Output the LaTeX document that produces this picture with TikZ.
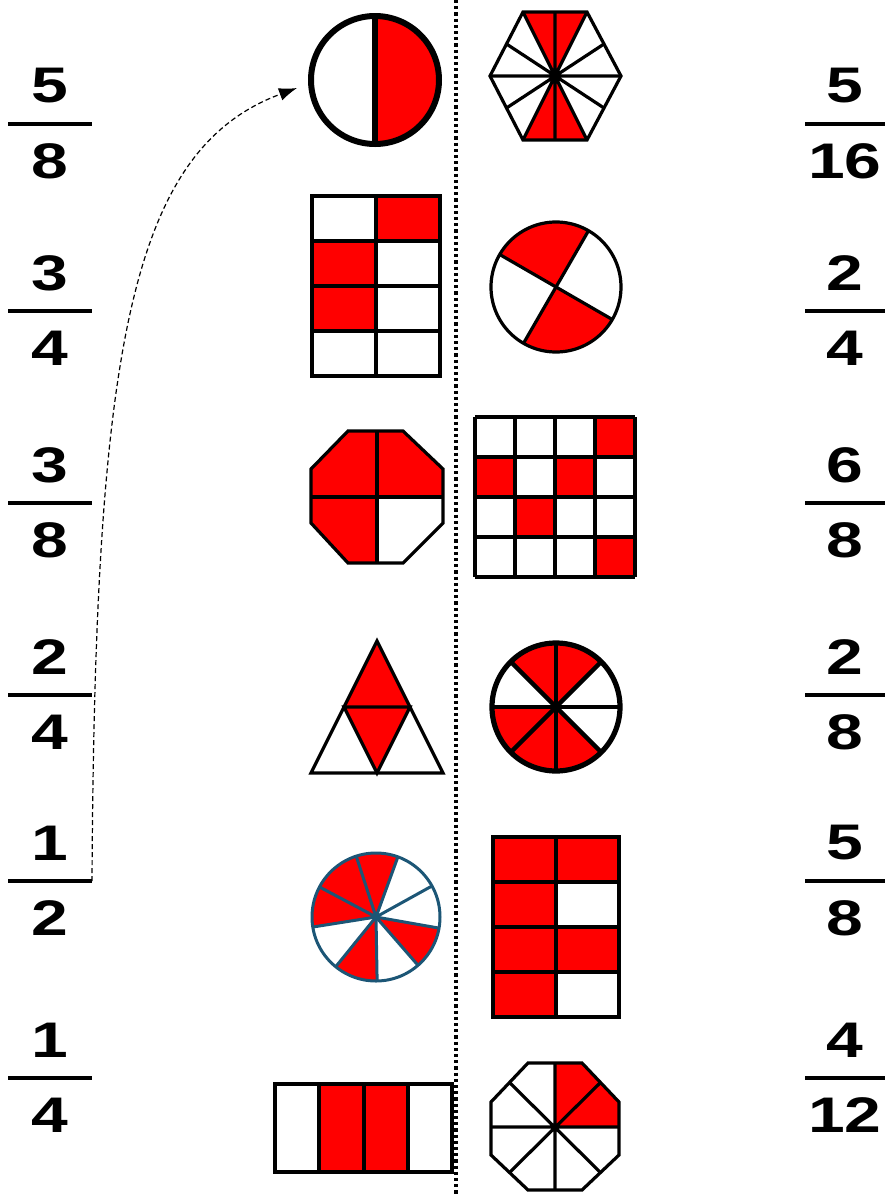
\documentclass[tikz,border=0pt]{standalone}
\usepackage{fontspec}
\setmainfont{Liberation Sans}
\newfontfamily\fracfont{Liberation Sans}[FakeStretch=1.32]
\usetikzlibrary{arrows.meta}
\definecolor{fillred}{RGB}{255,0,0}
\definecolor{rimblue}{RGB}{28,86,118}

\begin{document}
\begin{tikzpicture}[x=0.5pt,y=-0.5pt,>=Latex,
  digit/.style={font=\fracfont\bfseries\fontsize{25}{25}\selectfont,inner sep=0pt},
  bar/.style={line width=1.6pt},
  fig/.style={line width=1.6pt,line join=miter},
  heavy/.style={line width=3pt},
  rim/.style={draw=rimblue,line width=1.5pt}]
  \useasboundingbox (0,0) rectangle (885,1195);
  \foreach \y/\a/\b [count=\i] in {124/5/8,311/3/4,503/3/8,695/2/4,881/1/2,1078/1/4}{
    \node[digit] (ln\i) at (50,\y-38) {\a};
    \node[digit] (ld\i) at (50,\y+37) {\b};
    \draw[bar] (8,\y) coordinate (lb\i) -- (92,\y) coordinate (le\i);
  }
  \foreach \y/\a/\b [count=\i] in {124/5/16,311/2/4,503/6/8,695/2/8,881/5/8,1078/4/12}{
    \node[digit] (rn\i) at (845,\y-38) {\a};
    \node[digit] (rd\i) at (845,\y+37) {\b};
    \draw[bar] (805,\y) coordinate (rb\i) -- (885,\y) coordinate (re\i);
  }
  \draw[line width=1.6pt,dash pattern=on 1.6pt off 1.5pt] (456,0) coordinate (mtop) -- (456,1195) coordinate (mbot);

  \coordinate (c1) at (375,80);
  \fill[fillred] (c1) -- +(0,-64) arc[start angle=-90,end angle=90,radius=64] -- cycle;
  \draw[heavy] (c1) circle[radius=64];
  \draw[heavy] (375,16) -- (375,144);

  \coordinate (h1) at (555,76);
  \fill[fillred] (h1) -- (523,12) -- (587,12) -- cycle;
  \fill[fillred] (h1) -- (523,140) -- (587,140) -- cycle;
  \draw[fig] (490,76) -- (523,12) -- (587,12) -- (621,76) -- (587,140) -- (523,140) -- cycle;
  \draw[fig] (490,76) -- (621,76) (523,12) -- (587,140) (587,12) -- (523,140)
    (555,12) -- (555,140) (506.5,44) -- (604,108) (604,44) -- (506.5,108);

  \fill[fillred] (376,196) rectangle (440,241);
  \fill[fillred] (312,241) rectangle (376,331);
  \draw[line width=2pt] (312,196) rectangle (440,376);
  \foreach \y in {241,286,331} \draw[line width=2pt] (312,\y) -- (440,\y);
  \draw[line width=2pt] (376,196) -- (376,376);

  \coordinate (c2) at (556,287);
  \foreach \s/\e in {60/150,240/330}
    \fill[fillred] (c2) -- +(-\s:65) arc[start angle=-\s,end angle=-\e,radius=65] -- cycle;
  \foreach \a in {60,150,240,330} \draw[fig] (c2) -- +(-\a:65);
  \draw[fig] (c2) circle[radius=65];

  \fill[fillred] (348,431) -- (403,431) -- (443,469) -- (443,523) -- (403,563) -- (348,563) -- (311,523) -- (311,469) -- cycle;
  \fill[white] (377,497) -- (443,497) -- (443,523) -- (403,563) -- (377,563) -- cycle;
  \draw[fig] (348,431) -- (403,431) -- (443,469) -- (443,523) -- (403,563) -- (348,563) -- (311,523) -- (311,469) -- cycle;
  \draw[fig] (377,431) -- (377,563) (311,497) -- (443,497);

  \foreach \c/\r in {3/0,0/1,2/1,1/2,3/3}
    \fill[fillred] ({475+40*\c},{417+40*\r}) rectangle +(40,40);
  \foreach \k in {0,...,4}{
    \draw[fig] ({475+40*\k},417) -- ({475+40*\k},577);
    \draw[fig] (475,{417+40*\k}) -- (635,{417+40*\k});
  }

  \fill[fillred] (377,641) -- (410,707) -- (377,773) -- (344,707) -- cycle;
  \draw[fig] (377,641) -- (443,773) -- (311,773) -- cycle;
  \draw[fig] (344,707) -- (410,707) -- (377,773) -- cycle;

  \coordinate (c3) at (556,707);
  \foreach \s/\e in {45/135,180/315}
    \fill[fillred] (c3) -- +(-\s:64) arc[start angle=-\s,end angle=-\e,radius=64] -- cycle;
  \foreach \a in {0,45,...,315} \draw[line width=2.2pt] (c3) -- +(\a:64);
  \draw[line width=2.6pt] (c3) circle[radius=64];

  \coordinate (c4) at (376,917);
  \foreach \s/\e in {70/108,108/152,152/189,231/271,311/350}
    \fill[fillred] (c4) -- +(-\s:64) arc[start angle=-\s,end angle=-\e,radius=64] -- cycle;
  \foreach \a in {29,70,108,152,189,231,271,311,350} \draw[rim] (c4) -- +(-\a:64);
  \draw[rim] (c4) circle[radius=64];
  \fill[rimblue] (c4) circle[radius=3];

  \fill[fillred] (493,837) rectangle (556,1017);
  \fill[fillred] (556,837) rectangle (619,882);
  \fill[fillred] (556,927) rectangle (619,972);
  \draw[fig] (493,837) rectangle (619,1017);
  \foreach \y in {882,927,972} \draw[fig] (493,\y) -- (619,\y);
  \draw[fig] (556,837) -- (556,1017);

  \fill[fillred] (319,1084) rectangle (408,1172);
  \draw[fig] (275,1084) rectangle (452,1172);
  \foreach \x in {319,364,408} \draw[fig] (\x,1084) -- (\x,1172);

  \coordinate (c5) at (555,1127);
  \fill[fillred] (c5) -- (555,1063) -- (582,1063) -- (619,1102) -- (619,1127) -- cycle;
  \draw[fig] (528,1063) -- (582,1063) -- (619,1102) -- (619,1155) -- (582,1190) -- (528,1190) -- (491,1155) -- (491,1102) -- cycle;
  \draw[fig] (555,1063) -- (555,1190) (491,1127) -- (619,1127)
    (509.5,1082.5) -- (600.5,1172.5) (600.5,1082.5) -- (509.5,1172.5);

  \coordinate (tip) at (297,88);
  \draw[->,line width=0.6pt,dash pattern=on 2.5pt off 1.5pt,>={Latex[length=9pt,width=6.5pt]}]
    (le5) .. controls (95,350) and (130,150) .. (tip);
\end{tikzpicture}
\end{document}
